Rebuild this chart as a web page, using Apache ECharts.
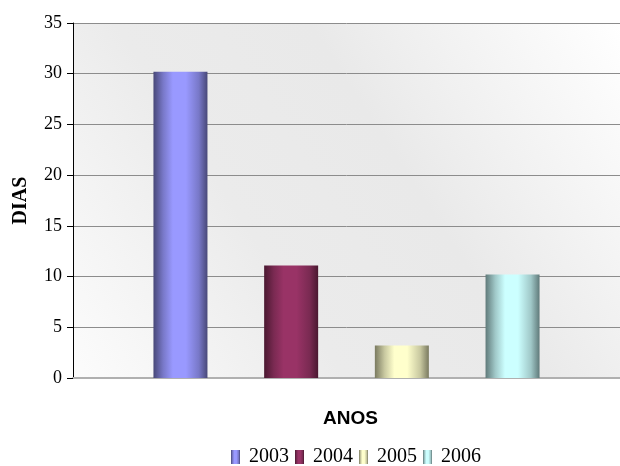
<!DOCTYPE html>
<html>
<head>
<meta charset="utf-8">
<script src="https://cdn.jsdelivr.net/npm/echarts@6/dist/echarts.min.js"></script>
<style>
html,body{margin:0;padding:0;background:#fff;}
#chart{width:620px;height:466px;}
</style>
</head>
<body>
<div id="chart"></div>
<script>
const categories = ['ANOS'];
const years = ['2003', '2004', '2005', '2006'];
const values = [30.2, 11.1, 3.2, 10.2];
const yTicks = { min: 0, max: 35, interval: 5 };

const palette = [
  { edge: '#484878', mid: '#7878c8', center: '#9999ff' },
  { edge: '#4a1830', mid: '#7a2a52', center: '#993366' },
  { edge: '#7a7a60', mid: '#c8c8a0', center: '#ffffcc' },
  { edge: '#607a7a', mid: '#a0c8c8', center: '#ccffff' }
];

function grad(p) {
  return new echarts.graphic.LinearGradient(0, 0, 1, 0, [
    { offset: 0, color: p.edge },
    { offset: 0.18, color: p.mid },
    { offset: 0.36, color: p.center },
    { offset: 0.6, color: p.center },
    { offset: 0.84, color: p.mid },
    { offset: 1, color: p.edge }
  ]);
}

const chart = echarts.init(document.getElementById('chart'));
const serif = 'Liberation Serif, Times New Roman, serif';

chart.setOption({
  animation: false,
  grid: {
    left: 73, right: -2, top: 23, bottom: 88,
    show: true,
    borderWidth: 0,
    backgroundColor: new echarts.graphic.LinearGradient(0, 1, 1, 0, [
      { offset: 0, color: '#fcfcfc' },
      { offset: 0.35, color: '#ebebeb' },
      { offset: 0.6, color: '#e9e9e9' },
      { offset: 1, color: '#ffffff' }
    ])
  },
  legend: {
    data: years,
    left: 231,
    top: 447,
    padding: 0,
    itemWidth: 9,
    itemHeight: 14,
    itemGap: 6,
    icon: 'rect',
    textStyle: { fontFamily: serif, fontSize: 20, color: '#000', padding: [2, 0, 0, 4] }
  },
  xAxis: {
    type: 'category',
    data: categories,
    name: 'ANOS',
    nameLocation: 'middle',
    nameGap: 31,
    nameTextStyle: {
      fontFamily: 'Liberation Sans Narrow, Liberation Sans, Arial, sans-serif',
      fontWeight: 'bold', fontSize: 19, color: '#000', padding: [0, 0, 0, 8]
    },
    axisLine: { show: true, lineStyle: { color: '#b0b0b0', width: 2 } },
    axisTick: { show: false },
    axisLabel: { show: false }
  },
  yAxis: {
    type: 'value',
    min: yTicks.min, max: yTicks.max, interval: yTicks.interval,
    name: 'DIAS',
    nameLocation: 'middle',
    nameGap: 42,
    nameRotate: 90,
    nameTextStyle: { fontFamily: serif, fontWeight: 'bold', fontSize: 20, color: '#000' },
    axisLine: { show: true, lineStyle: { color: '#000', width: 1 } },
    axisTick: { show: true, length: 6, lineStyle: { color: '#000' } },
    axisLabel: { fontFamily: serif, fontSize: 18, color: '#000', margin: 11 },
    splitLine: { show: true, lineStyle: { color: '#8c8c8c', width: 1 } }
  },
  series: years.map((y, i) => ({
    name: y,
    type: 'bar',
    data: [values[i]],
    barWidth: 54,
    barGap: '105%',
    itemStyle: { color: grad(palette[i]) }
  }))
});
</script>
</body>
</html>
